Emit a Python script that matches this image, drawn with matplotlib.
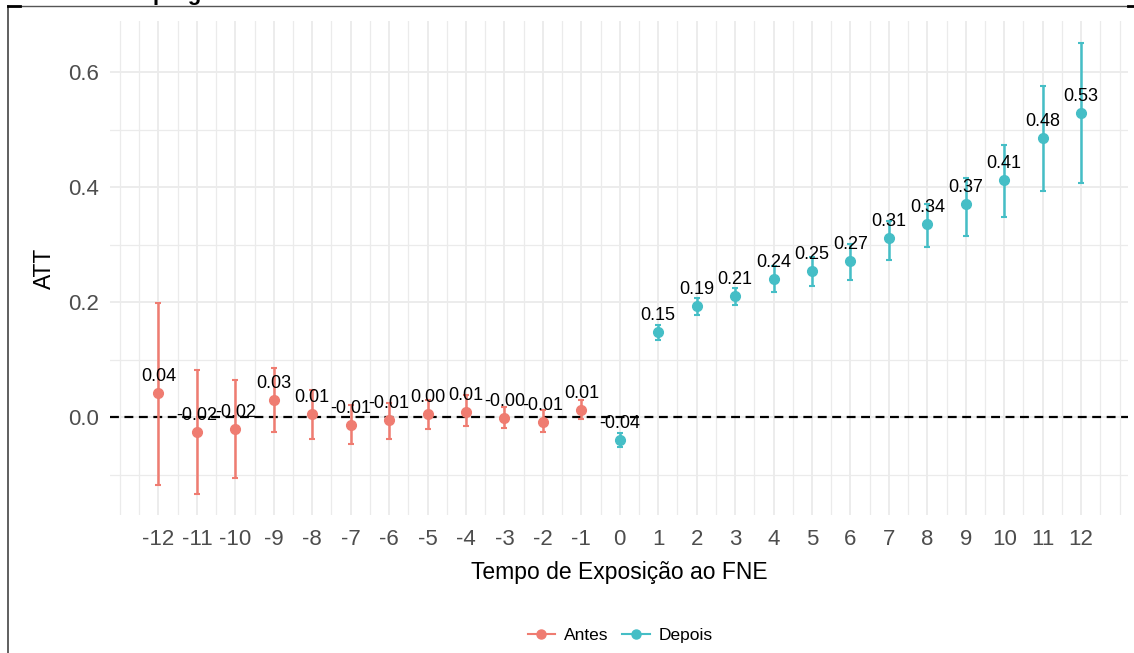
import matplotlib
matplotlib.use('Agg')
import matplotlib.pyplot as plt
from matplotlib.lines import Line2D
import numpy as np

# event time, ATT estimate and confidence band
periodos = [-12, -11, -10, -9, -8, -7, -6, -5, -4, -3, -2, -1,
            0, 1, 2, 3, 4, 5, 6, 7, 8, 9, 10, 11, 12]
att = [0.042, -0.026, -0.021, 0.030, 0.005, -0.014, -0.005, 0.005, 0.009, -0.002, -0.009, 0.012,
       -0.040, 0.148, 0.193, 0.210, 0.240, 0.254, 0.271, 0.311, 0.336, 0.370, 0.412, 0.485, 0.529]
ic_inf = [-0.117, -0.134, -0.106, -0.026, -0.037, -0.047, -0.037, -0.021, -0.016, -0.019, -0.026, -0.003,
          -0.052, 0.134, 0.178, 0.195, 0.218, 0.229, 0.239, 0.273, 0.296, 0.315, 0.349, 0.393, 0.408]
ic_sup = [0.198, 0.082, 0.064, 0.085, 0.047, 0.021, 0.024, 0.030, 0.038, 0.017, 0.012, 0.030,
          -0.028, 0.160, 0.207, 0.224, 0.263, 0.278, 0.301, 0.342, 0.371, 0.416, 0.473, 0.576, 0.650]
rotulos = ['0.04', '-0.02', '-0.02', '0.03', '0.01', '-0.01', '-0.01', '0.00', '0.01', '-0.00', '-0.01', '0.01',
           '-0.04', '0.15', '0.19', '0.21', '0.24', '0.25', '0.27', '0.31', '0.34', '0.37', '0.41', '0.48', '0.53']

cor_antes = '#EF7C71'
cor_depois = '#45BEC6'

plt.rcParams['font.family'] = ['Liberation Sans', 'DejaVu Sans']
plt.rcParams['axes.unicode_minus'] = False

fig = plt.figure(figsize=(11.34, 6.53), dpi=100)
ax = fig.add_axes([110 / 1134, 138 / 653, 1018 / 1134, 494 / 653])

x = np.array(periodos)
y = np.array(att)
lo = np.array(ic_inf)
hi = np.array(ic_sup)

for grupo, cor in [(x < 0, cor_antes), (x >= 0, cor_depois)]:
    ax.errorbar(x[grupo], y[grupo], yerr=[y[grupo] - lo[grupo], hi[grupo] - y[grupo]],
                fmt='o', color=cor, ecolor=cor, markersize=7, elinewidth=1.8,
                capsize=2.5, capthick=1.5, zorder=3)

for xi, yi, txt in zip(periodos, att, rotulos):
    ax.annotate(txt, (xi, yi), xytext=(0, 12), textcoords='offset points',
                ha='center', va='center', fontsize=13, color='black', zorder=4)

ax.axhline(0, color='black', linestyle=(0, (4, 2.5)), linewidth=1.6, zorder=2)

ax.set_xlim(-13.26, 13.22)
ax.set_ylim(-0.170, 0.689)
ax.set_xticks(periodos)
ax.set_xticks(np.arange(-12.5, 13.0, 1.0).tolist() + [-13, 13], minor=True)
ax.set_yticks([0.0, 0.2, 0.4, 0.6])
ax.set_yticklabels(['0.0', '0.2', '0.4', '0.6'])
ax.set_yticks([-0.1, 0.1, 0.3, 0.5], minor=True)

ax.grid(which='major', color='#EBEBEB', linewidth=1.3, zorder=0)
ax.grid(which='minor', color='#EBEBEB', linewidth=0.9, zorder=0)
ax.set_axisbelow(True)
ax.tick_params(which='both', length=0)
ax.tick_params(axis='both', labelsize=16, labelcolor='#4D4D4D')
ax.tick_params(axis='x', pad=10)
ax.tick_params(axis='y', pad=8)
for s in ax.spines.values():
    s.set_visible(False)

ax.set_xlabel('Tempo de Exposição ao FNE', fontsize=16.5, labelpad=8)
ax.set_ylabel('ATT', fontsize=16.5, labelpad=9)

handles = [Line2D([], [], color=cor_antes, marker='o', markersize=6.5, linewidth=1.5),
           Line2D([], [], color=cor_depois, marker='o', markersize=6.5, linewidth=1.5)]
fig.legend(handles, ['Antes', 'Depois'], loc='center', bbox_to_anchor=(0.547, 18 / 653),
           ncol=2, frameon=False, fontsize=12.5, handlelength=1.6, columnspacing=0.8,
           handletextpad=0.5)

# screenshot frame and clipped title at the top
fig.add_artist(Line2D([8 / 1134, 8 / 1134], [0, 1 - 6 / 653], color='#444444', linewidth=1.2,
                      transform=fig.transFigure))
fig.add_artist(Line2D([8 / 1134, 1128 / 1134], [1 - 6 / 653, 1 - 6 / 653], color='#555555',
                      linewidth=1.0, transform=fig.transFigure))
fig.add_artist(Line2D([8 / 1134, 20 / 1134], [1 - 6 / 653, 1 - 6 / 653], color='black',
                      linewidth=2.0, transform=fig.transFigure))
fig.add_artist(Line2D([1128 / 1134, 1134 / 1134], [1 - 6 / 653, 1 - 6 / 653], color='black',
                      linewidth=2.0, transform=fig.transFigure))
fig.text(153 / 1134, 1.0, 'programa', fontsize=16, fontweight='bold',
         ha='left', va='baseline')

fig.savefig('out.png', dpi=100)
